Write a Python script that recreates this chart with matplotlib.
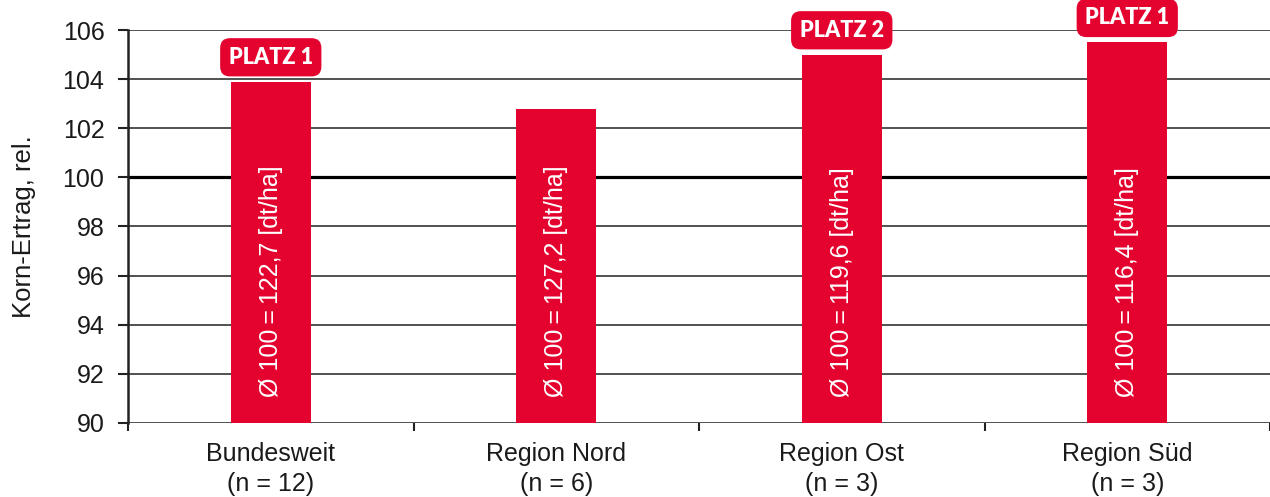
import matplotlib
matplotlib.use("Agg")
import matplotlib.pyplot as plt
import numpy as np

# data
categories = ["Bundesweit\n(n = 12)", "Region Nord\n(n = 6)", "Region Ost\n(n = 3)", "Region Süd\n(n = 3)"]
values = [103.9, 102.8, 105.0, 105.5]
bar_texts = ["Ø 100\u2009=\u2009122,7 [dt/ha]", "Ø 100\u2009=\u2009127,2 [dt/ha]",
             "Ø 100\u2009=\u2009119,6 [dt/ha]", "Ø 100\u2009=\u2009116,4 [dt/ha]"]
badges = ["PLATZ 1", None, "PLATZ 2", "PLATZ 1"]
yticks = [90, 92, 94, 96, 98, 100, 102, 104, 106]

red = "#E4032E"
plt.rcParams["font.family"] = ["Liberation Sans", "DejaVu Sans"]

fig = plt.figure(figsize=(12.7, 4.97), dpi=100)
ax = fig.add_axes([0.1008, 0.149, 0.8992, 0.7906])

x = np.arange(len(categories))
ax.bar(x, [v - 90 for v in values], bottom=90, width=0.28, color=red, zorder=3)

for yv in yticks:
    if yv == 100:
        ax.axhline(yv, color="black", lw=2.3, zorder=2)
    else:
        ax.axhline(yv, color="#333333", lw=1.2, zorder=2)

for xi, t in zip(x, bar_texts):
    ax.text(xi, 91.05, t, rotation=90, ha="center", va="bottom", color="white",
            fontsize=18, zorder=4)

for xi, v, b in zip(x, values, badges):
    if b is None:
        continue
    ax.annotate(b, xy=(xi, v), xytext=(0, 17.5), textcoords="offset points",
                ha="center", va="center", color="white", fontsize=15.5,
                fontweight="heavy", family="Lato",
                bbox=dict(boxstyle="round,pad=0.4,rounding_size=0.45", fc=red, ec="none"),
                zorder=5, annotation_clip=False)

ax.set_xlim(-0.5, 3.5)
ax.set_ylim(90, 106)
ax.set_yticks(yticks)
ax.set_yticklabels([str(v) for v in yticks], fontsize=18, color="#1a1a1a")
ax.set_xticks(x)
ax.set_xticklabels(categories, fontsize=18, color="#1a1a1a", linespacing=1.3)
ax.set_xticks(np.arange(-0.5, 4.0, 1.0), minor=True)
ax.tick_params(axis="x", which="major", length=0, pad=14)
ax.tick_params(axis="x", which="minor", length=6, width=1.5, color="#222222")
ax.tick_params(axis="y", length=7, width=1.5, color="#222222", pad=10)

for s in ["top", "right", "bottom"]:
    ax.spines[s].set_visible(False)
ax.spines["left"].set_linewidth(1.8)
ax.spines["left"].set_color("#222222")

ax.set_ylabel("Korn-Ertrag, rel.", fontsize=18.5, color="#1a1a1a", labelpad=19)

fig.savefig("out.png", dpi=100)
